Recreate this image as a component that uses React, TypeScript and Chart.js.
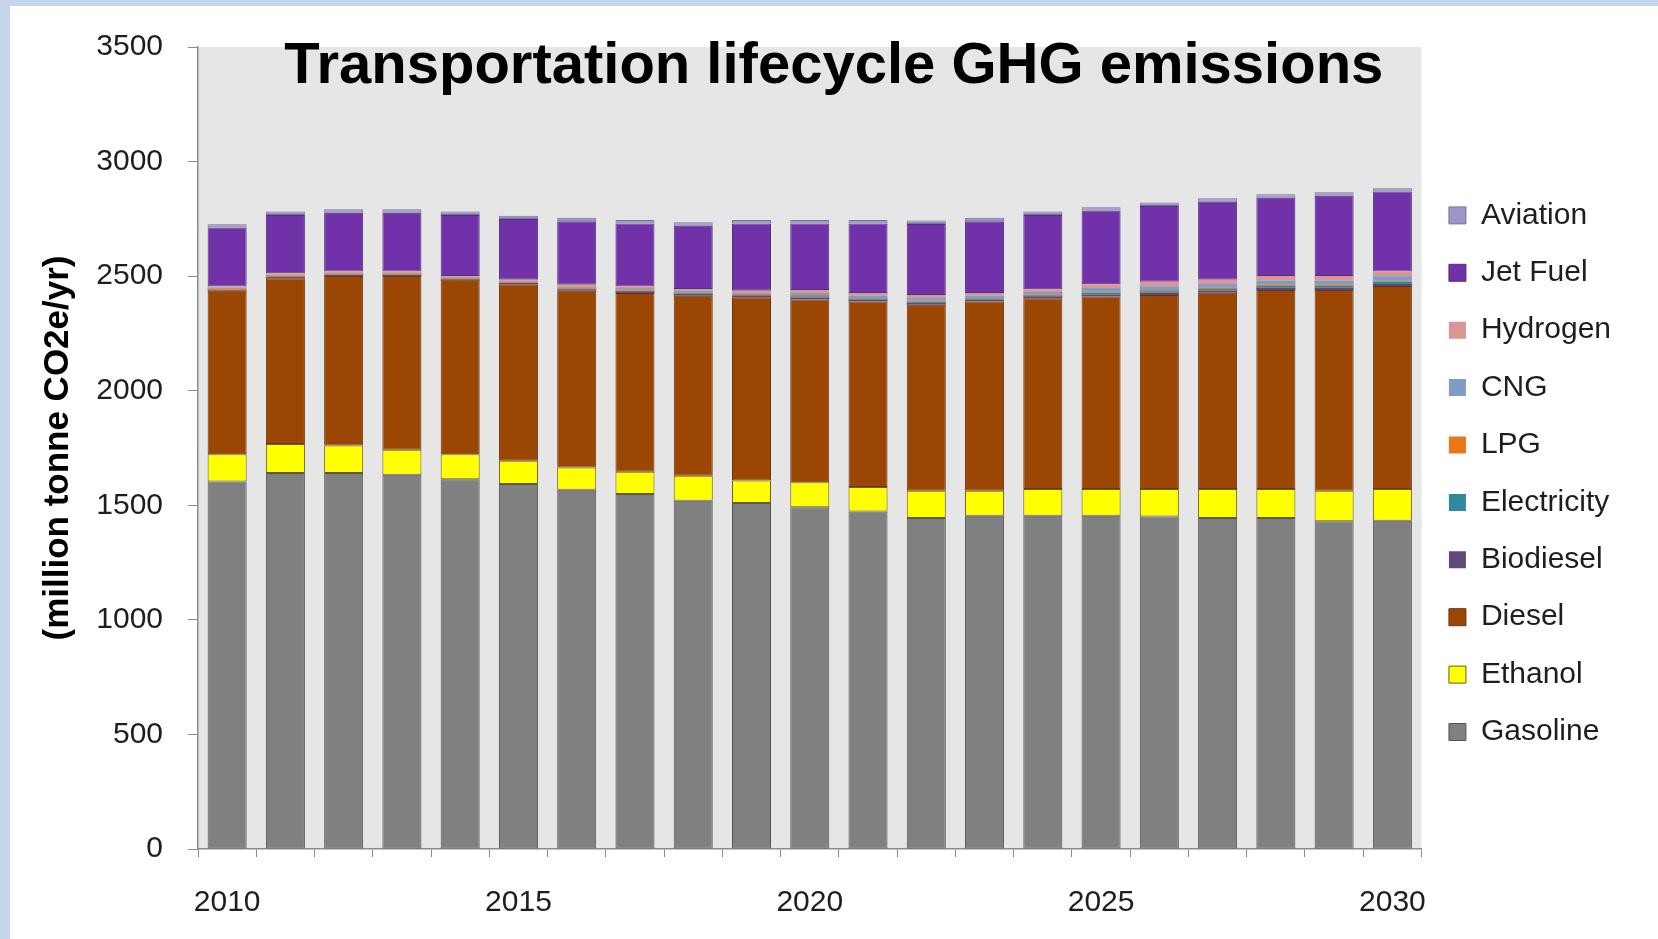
import React, { useEffect, useRef } from "react";
import { Chart, registerables } from "chart.js";

Chart.register(...registerables);

// Model years on the category axis
const years = [
  "2010", "2011", "2012", "2013", "2014", "2015", "2016", "2017", "2018", "2019", "2020",
  "2021", "2022", "2023", "2024", "2025", "2026", "2027", "2028", "2029", "2030",
];
// Years that carry a visible tick label
const labelledYears = ["2010", "2015", "2020", "2025", "2030"];

// Emissions by fuel, million tonne CO2e per year
const gasoline = [1604, 1641, 1641, 1633, 1614, 1593, 1568, 1549, 1520, 1510, 1491, 1473, 1444, 1454, 1454, 1454, 1451, 1444, 1444, 1430, 1433];
const ethanol = [119, 127, 120, 109, 109, 101, 97, 97, 109, 98, 109, 107, 119, 109, 117, 117, 120, 127, 127, 133, 138];
const diesel = [713, 723, 740, 759, 761, 771, 771, 780, 785, 800, 798, 809, 812, 826, 833, 840, 847, 857, 869, 877, 886];
const biodiesel = [4, 5, 5, 5, 4, 5, 7, 8, 8, 7, 9, 8, 9, 8, 8, 9, 9, 9, 9, 9, 9];
const electricity = [1, 1, 1, 1, 1, 1, 2, 2, 3, 3, 5, 4, 5, 4, 5, 7, 7, 7, 8, 8, 9];
const lpg = [6, 7, 6, 6, 5, 6, 6, 6, 5, 5, 6, 4, 5, 4, 4, 5, 5, 5, 5, 5, 5];
const cng = [3, 3, 3, 3, 3, 3, 5, 6, 7, 7, 11, 10, 12, 10, 10, 16, 17, 17, 19, 19, 20];
const hydrogen = [5, 6, 4, 4, 4, 4, 6, 7, 7, 6, 11, 11, 12, 11, 12, 17, 19, 18, 20, 20, 20];
const jetFuel = [257, 254, 257, 257, 266, 265, 278, 275, 276, 294, 290, 304, 310, 314, 324, 321, 331, 341, 341, 350, 349];
const aviation = [15, 15, 15, 15, 15, 15, 15, 15, 15, 15, 15, 15, 15, 15, 15, 15, 15, 15, 15, 15, 15];

const TITLE = "Transportation lifecycle GHG emissions";
const Y_TITLE = "(million tonne CO2e/yr)";
const FONT = "'Liberation Sans', Arial, sans-serif";

// thin: minor fuels drawn without an outline so their colour stays visible
const series = [
  { label: "Gasoline", data: gasoline, fill: "#808080", edge: "#4e5666", thin: false },
  { label: "Ethanol", data: ethanol, fill: "#ffff00", edge: "#6e5c12", thin: false },
  { label: "Diesel", data: diesel, fill: "#9b4603", edge: "#6a3410", thin: false },
  { label: "Biodiesel", data: biodiesel, fill: "#5f497a", edge: "#3f3050", thin: true },
  { label: "Electricity", data: electricity, fill: "#2f8aa0", edge: "#245f70", thin: true },
  { label: "LPG", data: lpg, fill: "#e77817", edge: "#9a5012", thin: true },
  { label: "CNG", data: cng, fill: "#7f9cc8", edge: "#5a6f94", thin: true },
  { label: "Hydrogen", data: hydrogen, fill: "#d99694", edge: "#a06a6a", thin: true },
  { label: "Jet Fuel", data: jetFuel, fill: "#7131a8", edge: "#55307a", thin: false },
  { label: "Aviation", data: aviation, fill: "#9c96c8", edge: "#77739a", thin: false },
];

// Grey plotting surface behind the bars
const plotBackground = {
  id: "plotBackground",
  beforeDraw(chart: any) {
    const { ctx, chartArea } = chart;
    ctx.save();
    ctx.fillStyle = "#e6e6e6";
    ctx.fillRect(chartArea.left, chartArea.top, chartArea.right - chartArea.left, chartArea.bottom - chartArea.top);
    ctx.restore();
  },
};

// Heading drawn inside the top of the plotting surface
const innerTitle = {
  id: "innerTitle",
  afterDatasetsDraw(chart: any) {
    const { ctx, chartArea } = chart;
    ctx.save();
    ctx.font = `bold 58px ${FONT}`;
    ctx.fillStyle = "#000000";
    ctx.textAlign = "center";
    ctx.textBaseline = "middle";
    ctx.fillText(TITLE, (chartArea.left + chartArea.right) / 2 + 24, chartArea.top + 20);
    ctx.restore();
  },
};

export default function App() {
  const canvasRef = useRef<HTMLCanvasElement | null>(null);

  useEffect(() => {
    document.body.style.margin = "0";
    const canvas = canvasRef.current;
    if (!canvas) return;
    const chart = new Chart(canvas, {
      type: "bar",
      data: {
        labels: years,
        datasets: series.map((s) => ({
          label: s.label,
          data: s.data,
          backgroundColor: s.fill,
          borderColor: s.edge,
          borderWidth: s.thin ? 0 : 1,
          borderSkipped: false,
          barPercentage: 0.67,
          categoryPercentage: 1,
        })),
      },
      options: {
        responsive: false,
        animation: false,
        devicePixelRatio: 1,
        layout: { padding: { left: 16, top: 47, right: 37, bottom: 0 } },
        plugins: {
          title: { display: false },
          tooltip: { enabled: false },
          legend: {
            position: "right",
            align: "start",
            reverse: true,
            // empty heading used only as a spacer above the legend entries
            title: {
              display: true,
              text: "",
              font: { family: FONT, size: 10 },
              padding: { top: 114, bottom: 0 },
            },
            labels: {
              boxWidth: 17,
              boxHeight: 17,
              padding: 27.4,
              color: "#1e1e1e",
              font: { family: FONT, size: 30 },
            },
          },
        },
        scales: {
          x: {
            stacked: true,
            offset: true,
            afterFit: (scale: any) => {
              scale.height = 90;
            },
            grid: {
              offset: true,
              drawOnChartArea: false,
              drawTicks: true,
              tickLength: 8,
              color: "#8c8c8c",
            },
            border: { display: true, color: "#8c8c8c", width: 1.5 },
            ticks: {
              autoSkip: false,
              maxRotation: 0,
              padding: 28,
              color: "#1e1e1e",
              font: { family: FONT, size: 30 },
              callback: function (this: any, _v: any, i: number) {
                const y = years[i];
                return labelledYears.includes(y) ? y : "";
              },
            },
          },
          y: {
            stacked: true,
            min: 0,
            max: 3500,
            afterFit: (scale: any) => {
              scale.width = 182;
            },
            grid: {
              drawOnChartArea: false,
              drawTicks: true,
              tickLength: 10,
              color: "#8c8c8c",
            },
            border: { display: true, color: "#8c8c8c", width: 1.5 },
            ticks: {
              stepSize: 500,
              padding: 25,
              color: "#1e1e1e",
              font: { family: FONT, size: 30 },
              callback: (v: any) => String(v),
            },
            title: {
              display: true,
              text: Y_TITLE,
              color: "#000000",
              padding: { top: 21, bottom: 0 },
              font: { family: FONT, size: 35, weight: "bold" },
            },
          },
        },
      },
      plugins: [plotBackground, innerTitle],
    });
    return () => chart.destroy();
  }, []);

  return (
    <div
      style={{
        position: "fixed",
        left: 0,
        top: 0,
        width: 1658,
        height: 939,
        background: "#c4d5ec",
        overflow: "hidden",
      }}
    >
      <div style={{ position: "absolute", left: 10, top: 6, right: 0, bottom: 0, background: "#ffffff" }} />
      <canvas
        ref={canvasRef}
        width={1658}
        height={939}
        style={{ position: "absolute", left: 0, top: 0, width: 1658, height: 939 }}
      />
    </div>
  );
}
